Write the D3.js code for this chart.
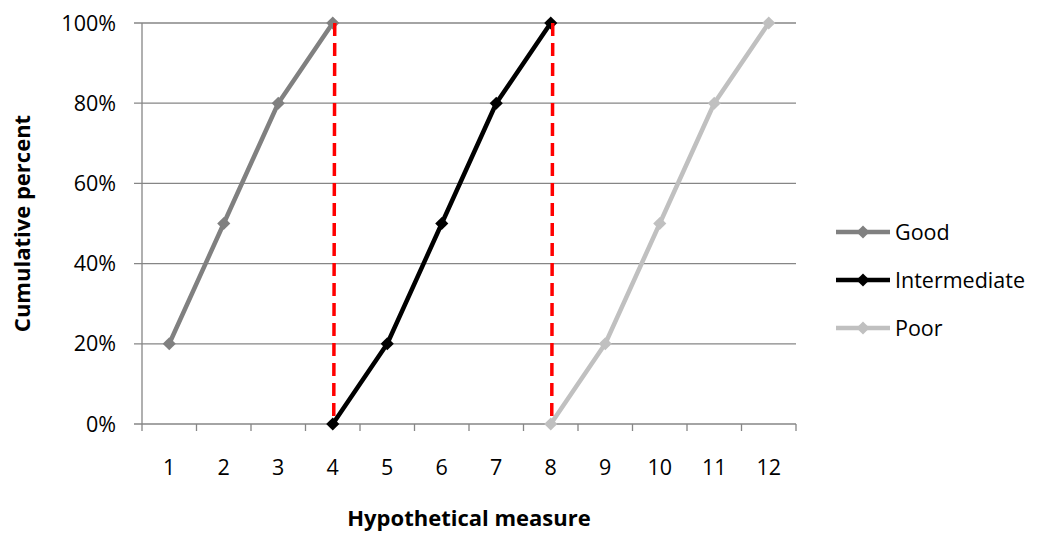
<!DOCTYPE html>
<html>
<head>
<meta charset="utf-8">
<script src="https://cdn.jsdelivr.net/npm/d3@7"></script>
<style>
  body { margin: 0; background: #fff; }
  svg { font-family: "Open Sans", "Noto Sans", sans-serif; }
</style>
</head>
<body>
<svg id="chart"></svg>
<script>
// Chart data
const categories = ['1', '2', '3', '4', '5', '6', '7', '8', '9', '10', '11', '12'];
const goodValues = [20, 50, 80, 100, null, null, null, null, null, null, null, null];
const intermediateValues = [null, null, null, 0, 20, 50, 80, 100, null, null, null, null];
const poorValues = [null, null, null, null, null, null, null, 0, 20, 50, 80, 100];
const seriesNames = ['Good', 'Intermediate', 'Poor'];
const seriesColors = ['#808080', '#000000', '#c0c0c0'];
const yTicks = [0, 20, 40, 60, 80, 100];
const cutoffCategories = ['4', '8'];

const width = 1043;
const height = 533;
const margin = { top: 23, right: 247, bottom: 109, left: 142 };

const svg = d3.select('#chart')
    .attr('width', width)
    .attr('height', height);

// Scales
const x = d3.scaleBand()
    .domain(categories)
    .range([margin.left, width - margin.right]);

const y = d3.scaleLinear()
    .domain([0, 100])
    .range([height - margin.bottom, margin.top]);

const cx = d => x(d) + x.bandwidth() / 2;

// Gridlines
svg.append('g')
    .selectAll('line')
    .data(yTicks)
    .join('line')
    .attr('x1', margin.left - 8)
    .attr('x2', width - margin.right)
    .attr('y1', d => y(d))
    .attr('y2', d => y(d))
    .attr('stroke', '#868686')
    .attr('stroke-width', 1.3);

// Y axis line
svg.append('line')
    .attr('x1', margin.left).attr('x2', margin.left)
    .attr('y1', margin.top).attr('y2', y(0))
    .attr('stroke', '#868686')
    .attr('stroke-width', 1.3);

// X axis ticks between categories
const boundaries = categories.map(c => x(c)).concat([width - margin.right]);
svg.append('g')
    .selectAll('line')
    .data(boundaries)
    .join('line')
    .attr('x1', d => d).attr('x2', d => d)
    .attr('y1', y(0)).attr('y2', y(0) + 7)
    .attr('stroke', '#868686')
    .attr('stroke-width', 1.3);

// Y tick labels
svg.append('g')
    .selectAll('text')
    .data(yTicks)
    .join('text')
    .attr('x', margin.left - 26)
    .attr('y', d => y(d))
    .attr('dy', '0.35em')
    .attr('text-anchor', 'end')
    .style('font-size', '21.5px')
    .text(d => d + '%');

// X tick labels
svg.append('g')
    .selectAll('text')
    .data(categories)
    .join('text')
    .attr('x', d => cx(d))
    .attr('y', y(0) + 43)
    .attr('dy', '0.35em')
    .attr('text-anchor', 'middle')
    .style('font-size', '21.5px')
    .text(d => d);

// Axis titles
svg.append('text')
    .attr('transform', `translate(22, ${(margin.top + y(0)) / 2}) rotate(-90)`)
    .attr('text-anchor', 'middle')
    .attr('dy', '0.35em')
    .style('font-size', '22px')
    .style('font-weight', 'bold')
    .text('Cumulative percent');

svg.append('text')
    .attr('x', (margin.left + width - margin.right) / 2)
    .attr('y', 526)
    .attr('text-anchor', 'middle')
    .style('font-size', '22px')
    .style('font-weight', 'bold')
    .text('Hypothetical measure');

// Series
const allValues = [goodValues, intermediateValues, poorValues];
const line = d3.line()
    .defined(d => d.v !== null)
    .x(d => cx(d.c))
    .y(d => y(d.v));

const diamond = d3.symbol().type(d3.symbolDiamond2).size(110);

allValues.forEach((vals, i) => {
    const pts = categories.map((c, j) => ({ c, v: vals[j] }));
    svg.append('path')
        .datum(pts)
        .attr('fill', 'none')
        .attr('stroke', seriesColors[i])
        .attr('stroke-width', 4.5)
        .attr('stroke-linejoin', 'round')
        .attr('d', line);
    svg.append('g')
        .selectAll('path')
        .data(pts.filter(d => d.v !== null))
        .join('path')
        .attr('transform', d => `translate(${cx(d.c)},${y(d.v)})`)
        .attr('d', diamond)
        .attr('fill', seriesColors[i]);
});

// Red dashed cutoff lines
svg.append('g')
    .selectAll('line')
    .data(cutoffCategories)
    .join('line')
    .attr('x1', d => cx(d) + 2).attr('x2', d => cx(d) + 1)
    .attr('y1', y(100)).attr('y2', y(0) - 4)
    .attr('stroke', '#ff0000')
    .attr('stroke-width', 3.5)
    .attr('stroke-dasharray', '13,7');

// Legend
const legend = svg.append('g')
    .attr('transform', 'translate(836, 232)');
seriesNames.forEach((name, i) => {
    const g = legend.append('g').attr('transform', `translate(0, ${i * 48})`);
    g.append('line')
        .attr('x1', 0).attr('x2', 54)
        .attr('stroke', seriesColors[i])
        .attr('stroke-width', 4.5);
    g.append('path')
        .attr('transform', 'translate(27,0)')
        .attr('d', diamond)
        .attr('fill', seriesColors[i]);
    g.append('text')
        .attr('x', 59)
        .attr('dy', '0.35em')
        .style('font-size', '21.5px')
        .text(name);
});
</script>
</body>
</html>
